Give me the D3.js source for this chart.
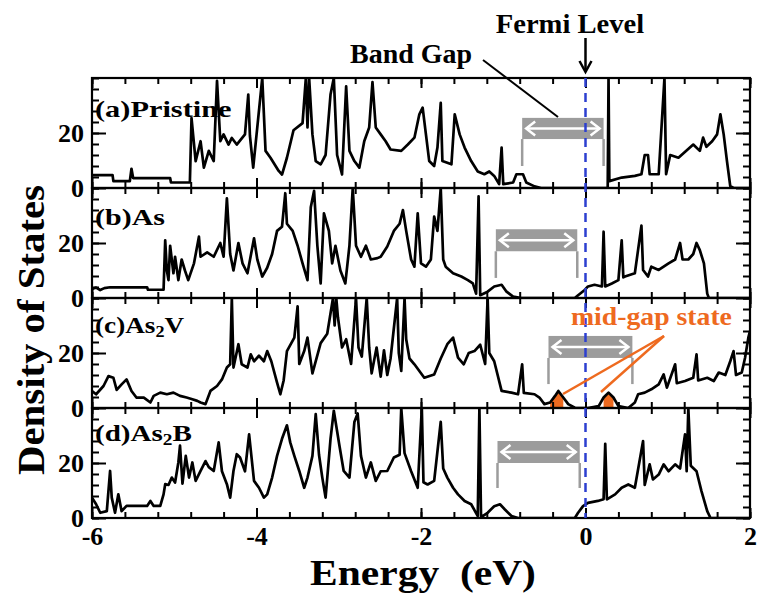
<!DOCTYPE html>
<html>
<head>
<meta charset="UTF-8" />
<title>Density of States</title>
<script src="https://d3js.org/d3.v7.min.js"></script>
<style>
  body { margin: 0; background: #fff; }
  text { font-family: "Liberation Serif", "Times New Roman", serif; font-weight: bold; }
</style>
</head>
<body>
<svg id="chart" width="757" height="593"></svg>
<script>
// ---- data: [energy (eV), DOS] ----
const xTicks = [-6, -4, -2, 0, 2]
const yTicks = [0, 20]

const dosPristine = [[-6.00,4.7],[-5.75,4.7],[-5.74,2.5],[-5.54,2.5],[-5.52,7.0],[-5.50,3.6],[-5.05,3.6],[-5.04,2.0],
  [-4.81,2.0],[-4.79,25.4],[-4.74,9.8],[-4.68,17],[-4.64,7.4],[-4.58,13.5],[-4.52,9.8],[-4.48,39],[-4.44,17],
  [-4.40,19.5],[-4.34,15.8],[-4.30,18.2],[-4.24,15.8],[-4.14,19.5],[-4.10,34],[-4.08,19],[-4.04,7.4],[-3.93,40],
  [-3.89,13.5],[-3.83,11],[-3.73,6.2],[-3.69,4.9],[-3.63,11],[-3.55,21],[-3.44,23.6],[-3.40,40],[-3.38,22],
  [-3.36,40],[-3.32,19.5],[-3.28,9.8],[-3.22,8.6],[-3.16,12],[-3.10,34],[-3.06,40],[-3.02,12],[-2.96,4.9],
  [-2.91,37],[-2.87,13.5],[-2.81,9.8],[-2.75,7.4],[-2.69,17],[-2.63,22],[-2.59,38.5],[-2.55,22],[-2.49,19.5],
  [-2.43,17],[-2.37,14],[-2.24,13.5],[-2.16,15.8],[-2.08,18.3],[-2.02,26.8],[-1.98,29.2],[-1.94,19.5],[-1.90,9.8],
  [-1.84,8],[-1.80,14.7],[-1.76,31],[-1.74,9.8],[-1.63,8.6],[-1.59,26.8],[-1.53,19.5],[-1.47,14.7],[-1.39,9.8],
  [-1.31,6],[-1.23,5],[-1.17,6],[-1.11,4.4],[-1.05,1.4],[-1.02,14.7],[-1.00,1.4],[-0.88,2],[-0.84,5],[-0.76,5],
  [-0.72,2],[-0.62,0.6],[-0.54,0],[0.27,0],[0.28,40],[0.29,2.5],[0.44,3.8],[0.60,4.4],[0.68,5],[0.72,12],
  [0.76,12],[0.78,5],[0.89,5],[0.96,40],[0.98,5],[1.03,12],[1.13,11],[1.31,15.8],[1.39,13.5],[1.43,18.3],
  [1.47,15],[1.54,17],[1.60,19.5],[1.64,26.8],[1.68,19.5],[1.72,9.8],[1.76,0.7],[1.80,0],[2.00,0]]

const dosAs = [[-6.00,3.3],[-5.95,3.8],[-5.90,2.9],[-5.85,3.6],[-5.78,3.9],[-5.33,3.9],[-5.32,3.0],[-5.13,3.0],
  [-5.11,21],[-5.09,10],[-5.07,6.5],[-5.05,19],[-5.01,9],[-4.99,15],[-4.95,6.5],[-4.91,14],[-4.87,10],[-4.83,6.5],
  [-4.76,12.6],[-4.70,22.3],[-4.68,15],[-4.60,16.6],[-4.52,15],[-4.44,20],[-4.40,15],[-4.36,36.2],[-4.32,16],
  [-4.28,10],[-4.22,20],[-4.17,12.6],[-4.11,9],[-4.03,21.7],[-3.99,14],[-3.93,7.8],[-3.87,11],[-3.81,16],
  [-3.75,24.4],[-3.69,25.9],[-3.65,38.1],[-3.63,27],[-3.56,24.4],[-3.50,19],[-3.44,12.6],[-3.38,6.5],[-3.34,33],
  [-3.30,39],[-3.26,19],[-3.22,5.3],[-3.18,30.8],[-3.12,24.4],[-3.08,12.6],[-3.04,19],[-2.98,10],[-2.92,5.3],
  [-2.87,19],[-2.83,40],[-2.79,19],[-2.73,15],[-2.67,19],[-2.61,14],[-2.53,14.5],[-2.49,15],[-2.41,18.7],
  [-2.33,24.4],[-2.26,27],[-2.22,32],[-2.18,24.4],[-2.12,14],[-2.08,11.4],[-2.04,30.8],[-2.00,12.6],[-1.94,11.4],
  [-1.88,14],[-1.84,29.6],[-1.80,24.4],[-1.76,40],[-1.73,14],[-1.70,11.4],[-1.61,9],[-1.51,7.8],[-1.43,6.5],
  [-1.37,5.3],[-1.33,1.6],[-1.30,37],[-1.28,1],[-1.19,2.3],[-1.11,4.2],[-1.02,4.8],[-0.96,2.3],[-0.88,0.5],
  [-0.78,0],[-0.13,0],[-0.09,1],[-0.01,2.9],[0.03,4.2],[0.11,4.8],[0.20,4.2],[0.22,24.1],[0.24,4.2],[0.32,5.3],
  [0.40,6.5],[0.44,21],[0.46,7.5],[0.48,7.8],[0.60,9],[0.68,26.3],[0.70,10.2],[0.76,7.8],[0.80,11.4],[0.89,10.2],
  [0.95,11.4],[1.01,12.6],[1.09,14],[1.15,20],[1.18,14],[1.25,14],[1.31,16],[1.35,20],[1.39,17.4],[1.44,12.6],
  [1.48,1.6],[1.50,0],[2.00,0]]

const dosAs2V = [[-6.00,6.2],[-5.95,5],[-5.86,8],[-5.80,11.6],[-5.74,11],[-5.70,6.6],[-5.64,8.6],[-5.58,10.4],
  [-5.52,6.2],[-5.46,3.8],[-5.37,3.8],[-5.29,2],[-5.25,4.4],[-5.17,5.6],[-5.09,5],[-5.01,5.6],[-4.93,4.4],
  [-4.85,3.8],[-4.78,3.2],[-4.72,2.6],[-4.68,2],[-4.62,1.4],[-4.56,6.2],[-4.48,8],[-4.42,10.4],[-4.36,14.7],
  [-4.32,15.9],[-4.30,40],[-4.28,14.7],[-4.22,23.2],[-4.18,15.9],[-4.11,14.7],[-4.07,19.5],[-4.03,17],[-3.97,19],
  [-3.91,17],[-3.87,20.7],[-3.82,17],[-3.75,9.2],[-3.71,5],[-3.67,10],[-3.63,20.7],[-3.54,25.6],[-3.50,37],
  [-3.48,16],[-3.42,20.7],[-3.38,25.6],[-3.32,12.6],[-3.22,23.6],[-3.14,27],[-3.07,40],[-3.05,30],[-3.03,40],
  [-3.01,33],[-2.96,22],[-2.91,25],[-2.85,16],[-2.79,40],[-2.76,22],[-2.72,18.7],[-2.66,40],[-2.63,22],
  [-2.60,12.6],[-2.54,22],[-2.49,11.4],[-2.45,21],[-2.41,12],[-2.37,18],[-2.29,40],[-2.27,20],[-2.24,13.5],
  [-2.20,40],[-2.18,25],[-2.14,18],[-2.08,15.9],[-1.96,11],[-1.84,12.2],[-1.76,18],[-1.68,23.2],[-1.61,25.6],
  [-1.55,18.3],[-1.48,15.9],[-1.42,20],[-1.35,20.7],[-1.28,23],[-1.22,16],[-1.19,40],[-1.17,20],[-1.11,17],
  [-1.02,6.2],[-0.90,5.6],[-0.82,5],[-0.77,15.9],[-0.75,5.5],[-0.62,5],[-0.56,3.8],[-0.50,1.4],[-0.43,2],
  [-0.37,4.4],[-0.33,6.2],[-0.27,3.8],[-0.21,1.4],[-0.13,0.1],[0.03,0],[0.16,0.7],[0.22,3.8],[0.28,5.6],
  [0.34,3.8],[0.40,0.7],[0.52,0],[0.60,2],[0.64,5],[0.72,5.6],[0.80,6.8],[0.89,8.6],[0.95,12.2],[0.99,7.4],
  [1.09,15.9],[1.11,9],[1.21,9.8],[1.31,11],[1.35,19.5],[1.37,10],[1.48,11],[1.56,9.8],[1.62,12.9],[1.70,12],
  [1.76,17],[1.80,20.7],[1.83,12],[1.90,12.9],[1.94,18.3],[1.98,25.6],[2.00,28]]

const dosAs2B = [[-6.00,7.4],[-5.95,5],[-5.90,1.9],[-5.82,2.5],[-5.78,17.1],[-5.76,7.4],[-5.72,1.9],[-5.68,8.6],
  [-5.64,2.5],[-5.58,4.4],[-5.33,4.4],[-5.29,6.2],[-5.25,4.4],[-5.17,4.4],[-5.13,8.6],[-5.11,12.3],[-5.07,12],
  [-5.03,14.7],[-4.99,12.9],[-4.95,20.2],[-4.93,26.3],[-4.90,12.5],[-4.86,22.6],[-4.82,14.7],[-4.78,20.2],
  [-4.74,13.5],[-4.68,17.1],[-4.62,20.7],[-4.58,18.5],[-4.52,17.1],[-4.46,27.5],[-4.42,17],[-4.36,12.3],
  [-4.32,7.4],[-4.28,17.1],[-4.24,23.2],[-4.20,22],[-4.14,17],[-4.09,30.4],[-4.03,13.5],[-3.97,11],[-3.91,7.4],
  [-3.87,8.6],[-3.81,14.7],[-3.75,22.6],[-3.69,28.8],[-3.63,33.7],[-3.59,27.5],[-3.54,22.6],[-3.48,17.1],
  [-3.42,11],[-3.38,14.7],[-3.32,22.6],[-3.28,37.8],[-3.24,23],[-3.20,14.7],[-3.16,7.4],[-3.10,28.8],[-3.06,39],
  [-2.99,26],[-2.94,17.1],[-2.87,14.7],[-2.81,34.9],[-2.77,38],[-2.73,22.6],[-2.67,14.7],[-2.61,20.2],
  [-2.55,13.5],[-2.49,17],[-2.41,17.1],[-2.33,22],[-2.26,23],[-2.24,40],[-2.20,23.6],[-2.12,17],[-2.04,11],
  [-1.99,40],[-1.97,13],[-1.92,12.2],[-1.84,13.5],[-1.76,35],[-1.73,18],[-1.68,14.7],[-1.61,11],[-1.55,8.6],
  [-1.47,6.2],[-1.39,5],[-1.31,0.7],[-1.29,40],[-1.27,0.3],[-1.19,1.9],[-1.11,4.3],[-1.04,5],[-0.98,3.1],
  [-0.90,0.7],[-0.82,0],[-0.13,0],[-0.09,1.9],[-0.03,4.3],[0.03,5.5],[0.15,6.2],[0.22,6.8],[0.24,27],[0.26,6.8],
  [0.36,8.6],[0.44,11],[0.52,12.2],[0.60,11],[0.70,28],[0.72,12],[0.78,19.5],[0.82,14],[0.89,15.8],[0.95,19.5],
  [1.01,17],[1.09,19.5],[1.15,18],[1.21,30.4],[1.23,17],[1.25,40],[1.28,19],[1.35,17],[1.41,9.8],[1.48,2.5],
  [1.52,0],[2.00,0]]

// panel labels: [prefix, subscript, suffix]
const panelLabels = [["(a)Pristine", "", ""], ["(b)As", "", ""], ["(c)As", "2", "V"], ["(d)As", "2", "B"]]
// band gap markers per panel (eV) and the DOS levels of the bar
const gapStart = [-0.77, -1.09, -0.45, -1.07]
const gapEnd = [0.22, -0.10, 0.57, -0.07]
const gapBarTop = [25.5, 25, 26.2, 28]
const gapBarBottom = [17.8, 17, 18.2, 20]
const gapLineEnd = [8, 7.3, 8.7, 10.9]
// mid-gap states in panel (c)
const midGapRanges = [[-0.45, -0.24], [0.17, 0.39]]

const series = [dosPristine, dosAs, dosAs2V, dosAs2B]

// ---- layout ----
const left = 92, right = 750, top0 = 78, panelH = 110
const orange = "#ee6a1f", blue = "#2c3fd0", gray = "#9c9c9c"
const svg = d3.select("#chart")

// squeeze/stretch a text horizontally to a width, around anchor ax
function fitWidth(sel, w, ax) {
  const b = sel.node().getBBox()
  const k = w / b.width
  sel.attr("transform", `translate(${ax},0) scale(${k},1) translate(${-ax},0)`)
}

const x = d3.scaleLinear().domain([-6, 2]).range([left, right])
const minorX = d3.range(0, 21).map(k => -6 + k * 0.4)
const minorY = d3.range(0, 11).map(k => k * 4)
const labelWidths = [137, 70, 90, 97]

series.forEach((data, i) => {
  const yTop = top0 + i * panelH
  const y = d3.scaleLinear().domain([0, 40]).range([yTop + panelH, yTop])
  const g = svg.append("g")

  g.append("clipPath").attr("id", "clip" + i)
    .append("rect").attr("x", left).attr("y", yTop).attr("width", right - left).attr("height", panelH)

  // band gap marker (gray)
  const gx0 = x(gapStart[i]), gx1 = x(gapEnd[i])
  const gb = g.append("g")
  gb.append("rect").attr("x", gx0).attr("y", y(gapBarTop[i]))
    .attr("width", gx1 - gx0).attr("height", y(gapBarBottom[i]) - y(gapBarTop[i]))
    .attr("fill", gray)
  ;[gx0, gx1].forEach(gx => {
    gb.append("line").attr("x1", gx).attr("x2", gx)
      .attr("y1", y(gapBarBottom[i])).attr("y2", y(gapLineEnd[i]))
      .attr("stroke", gray).attr("stroke-width", 2.5)
  })
  const ym = (y(gapBarTop[i]) + y(gapBarBottom[i])) / 2
  gb.append("line").attr("x1", gx0 + 4).attr("x2", gx1 - 4).attr("y1", ym).attr("y2", ym)
    .attr("stroke", "#fff").attr("stroke-width", 2.5)
  gb.append("path").attr("d", `M${gx0 + 13},${ym - 7}L${gx0 + 4},${ym}L${gx0 + 13},${ym + 7}`)
    .attr("fill", "none").attr("stroke", "#fff").attr("stroke-width", 2.5)
  gb.append("path").attr("d", `M${gx1 - 13},${ym - 7}L${gx1 - 4},${ym}L${gx1 - 13},${ym + 7}`)
    .attr("fill", "none").attr("stroke", "#fff").attr("stroke-width", 2.5)

  // mid-gap fill
  if (i === 2) {
    const area = d3.area().x(d => x(d[0])).y0(y(0)).y1(d => y(d[1]))
    midGapRanges.forEach(r => {
      g.append("path").attr("d", area(data.filter(d => d[0] >= r[0] && d[0] <= r[1])))
        .attr("fill", orange).attr("clip-path", `url(#clip${i})`)
    })
  }

  // DOS curve
  const line = d3.line().x(d => x(d[0])).y(d => y(d[1]))
  g.append("path").attr("d", line(data))
    .attr("fill", "none").attr("stroke", "#000").attr("stroke-width", 2.7)
    .attr("stroke-linejoin", "round").attr("clip-path", `url(#clip${i})`)

  // ticks (inward) on all four sides
  const addTicks = (axis, vals, size, tr) => {
    g.append("g").attr("transform", tr)
      .call(axis.tickValues(vals).tickSize(-size).tickFormat(""))
      .call(a => a.select(".domain").remove())
      .call(a => a.selectAll("line").attr("stroke", "#000").attr("stroke-width", 2))
  }
  addTicks(d3.axisBottom(x), minorX, 6, `translate(0,${yTop + panelH})`)
  addTicks(d3.axisTop(x), minorX, 6, `translate(0,${yTop})`)
  addTicks(d3.axisBottom(x), xTicks, 10, `translate(0,${yTop + panelH})`)
  addTicks(d3.axisTop(x), xTicks, 10, `translate(0,${yTop})`)
  addTicks(d3.axisLeft(y), minorY, 7, `translate(${left},0)`)
  addTicks(d3.axisRight(y), minorY, 7, `translate(${right},0)`)
  addTicks(d3.axisLeft(y), yTicks, 14, `translate(${left},0)`)
  addTicks(d3.axisRight(y), yTicks, 14, `translate(${right},0)`)

  // y labels
  g.append("g").attr("transform", `translate(${left - 8},0)`)
    .call(d3.axisLeft(y).tickValues(yTicks).tickSize(0).tickPadding(0))
    .call(a => a.select(".domain").remove())
    .call(a => a.selectAll("text").attr("font-size", 26).attr("fill", "#000")
      .attr("font-family", "Liberation Serif").attr("font-weight", "bold"))

  // frame
  g.append("rect").attr("x", left).attr("y", yTop).attr("width", right - left).attr("height", panelH)
    .attr("fill", "none").attr("stroke", "#000").attr("stroke-width", 2.2)

  // panel label
  const lb = panelLabels[i]
  const t = g.append("text").attr("x", left + 3).attr("y", yTop + 39 - 2 * i).attr("font-size", 24)
  t.append("tspan").text(lb[0])
  if (lb[1]) {
    t.append("tspan").attr("font-size", 16).attr("dy", 4).text(lb[1])
    t.append("tspan").attr("dy", -4).text(lb[2])
  }
  fitWidth(t, labelWidths[i], left + 3)
})

const bottom = top0 + 4 * panelH

// x tick labels
svg.append("g").attr("transform", `translate(0,${bottom + 27})`)
  .call(d3.axisBottom(x).tickValues(xTicks).tickSize(0).tickPadding(0))
  .call(a => a.select(".domain").remove())
  .call(a => a.selectAll("text").attr("font-size", 26).attr("fill", "#000").attr("dy", 0)
    .attr("font-family", "Liberation Serif").attr("font-weight", "bold").text(d => d < 0 ? "-" + (-d) : d))

// Fermi level
svg.append("line").attr("x1", x(0)).attr("x2", x(0)).attr("y1", top0).attr("y2", bottom)
  .attr("stroke", blue).attr("stroke-width", 2.5).attr("stroke-dasharray", "9,6")
const fermi = svg.append("text").attr("x", 570).attr("y", 33).attr("text-anchor", "middle")
  .attr("font-size", 27).text("Fermi Level")
fitWidth(fermi, 149, 570)
svg.append("line").attr("x1", x(0)).attr("x2", x(0)).attr("y1", 38).attr("y2", 72)
  .attr("stroke", "#000").attr("stroke-width", 2.5)
svg.append("path").attr("d", `M${x(0) - 6},${61}L${x(0)},${72}L${x(0) + 6},${61}`)
  .attr("fill", "none").attr("stroke", "#000").attr("stroke-width", 2.5)

// Band gap annotation
const bandGap = svg.append("text").attr("x", 472).attr("y", 63).attr("text-anchor", "end")
  .attr("font-size", 27).text("Band Gap")
fitWidth(bandGap, 122, 472)
svg.append("line").attr("x1", 483).attr("y1", 60).attr("x2", 558).attr("y2", 117)
  .attr("stroke", "#000").attr("stroke-width", 2)

// mid-gap annotation
const mid = svg.append("text").attr("x", 571).attr("y", 325).attr("font-size", 25)
  .attr("fill", orange).text("mid-gap state")
fitWidth(mid, 161, 571)
svg.append("line").attr("x1", 664).attr("y1", 336).attr("x2", 563).attr("y2", 394)
  .attr("stroke", orange).attr("stroke-width", 2.5)
svg.append("line").attr("x1", 664).attr("y1", 336).attr("x2", 601).attr("y2", 392)
  .attr("stroke", orange).attr("stroke-width", 2.5)

// axis titles
const yTitle = svg.append("g").attr("transform", "translate(44,330) rotate(-90)")
  .append("text").attr("x", 0).attr("y", 0).attr("text-anchor", "middle")
  .attr("font-size", 38).text("Density of States")
fitWidth(yTitle, 290, 0)
const xTitle = svg.append("text").attr("x", 423).attr("y", 585).attr("text-anchor", "middle")
  .attr("font-size", 36).style("white-space", "pre").text("Energy  (eV)")
fitWidth(xTitle, 226, 423)
</script>
</body>
</html>
